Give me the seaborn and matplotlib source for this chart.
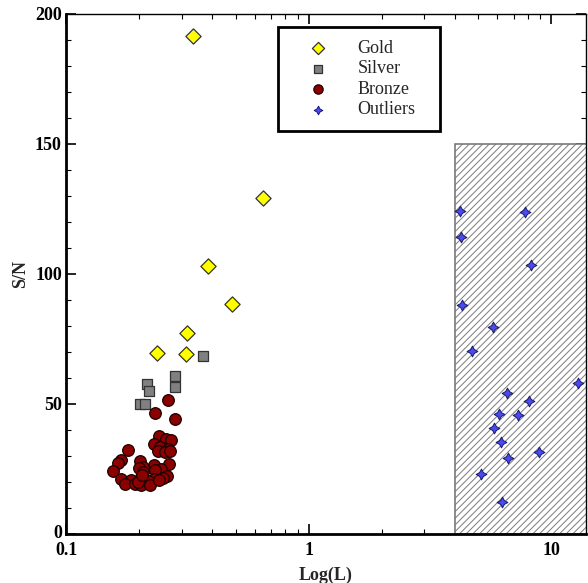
import numpy as np
import pandas as pd
import matplotlib
matplotlib.use("Agg")
import matplotlib.pyplot as plt
import matplotlib.transforms as mtransforms
from matplotlib.patches import Rectangle
from matplotlib.ticker import LogLocator, MultipleLocator, FixedLocator, FixedFormatter
import seaborn as sns

# ---- data ----
gold_x = [0.334, 0.647, 0.383, 0.484, 0.316, 0.237, 0.313]
gold_y = [191.4, 129.1, 103.0, 88.6, 77.3, 69.6, 69.3]

silver_x = [0.367, 0.280, 0.281, 0.215, 0.220, 0.201, 0.211]
silver_y = [68.5, 60.9, 56.7, 57.6, 55.0, 49.9, 49.9]

bronze_x = [0.262, 0.2325, 0.2818, 0.2421, 0.2585, 0.271, 0.2310, 0.2444, 0.2636,
            0.2384, 0.2554, 0.2679, 0.1794, 0.1679, 0.1641, 0.2011, 0.1565, 0.2661,
            0.2302, 0.2069, 0.2467, 0.1997, 0.2331, 0.2081, 0.2596, 0.2499, 0.2310,
            0.2036, 0.1684, 0.1846, 0.2169, 0.1749, 0.1923, 0.2030, 0.2216, 0.1973,
            0.2407, 0.2049]
bronze_y = [51.7, 46.4, 44.1, 37.8, 36.4, 36.2, 34.5, 33.6, 32.8,
            32.1, 31.4, 31.9, 32.4, 28.3, 27.4, 28.1, 24.1, 26.9,
            26.7, 25.9, 25.0, 25.5, 24.6, 23.8, 22.4, 21.4, 21.0,
            21.8, 21.0, 20.8, 20.5, 19.1, 19.1, 18.8, 19.0, 20.1,
            20.8, 22.7]

outlier_x = [4.195, 7.82, 4.264, 8.25, 4.30, 5.75, 4.69, 12.92, 6.57, 8.09,
             6.07, 7.27, 5.83, 6.21, 6.63, 8.93, 5.15, 6.28]
outlier_y = [124.3, 123.8, 114.1, 103.6, 88.1, 79.7, 70.3, 58.1, 54.1, 51.3,
             46.0, 45.9, 40.8, 35.4, 29.1, 31.7, 23.2, 12.2]

region_x = [4.0, 20.0]      # hatched outlier region
region_y = [0.0, 150.0]

x_lim = [0.1, 13.9]
y_lim = [0, 200]
x_major = [0.1, 1, 10]
x_major_labels = ["0.1", "1", "10"]
y_major = [0, 50, 100, 150, 200]

groups = ["Gold", "Silver", "Bronze", "Outliers"]

df = pd.concat([
    pd.DataFrame({"x": gold_x, "y": gold_y, "group": "Gold"}),
    pd.DataFrame({"x": silver_x, "y": silver_y, "group": "Silver"}),
    pd.DataFrame({"x": bronze_x, "y": bronze_y, "group": "Bronze"}),
    pd.DataFrame({"x": outlier_x, "y": outlier_y, "group": "Outliers"}),
], ignore_index=True)

# ---- style ----
sns.set_style("ticks")
plt.rcParams["font.family"] = ["Liberation Serif", "DejaVu Serif"]
plt.rcParams["hatch.linewidth"] = 0.7

styles = {
    "Gold":     dict(marker="D", s=60, color="#ffff00", edgecolor="#333333", linewidth=0.9),
    "Silver":   dict(marker="s", s=55, color="#808080", edgecolor="#333333", linewidth=0.9),
    "Bronze":   dict(marker="o", s=70, color="#8b0000", edgecolor="#1a0000", linewidth=0.9),
    "Outliers": dict(marker=(4, 1, 0), s=60, color="#4a4af0", edgecolor="#1a1a66", linewidth=0.7),
}

fig = plt.figure(figsize=(5.88, 5.83), dpi=100)
ax = fig.add_axes([66 / 588, 1 - 534 / 583, 520 / 588, 520 / 583])

rect = Rectangle((region_x[0], region_y[0]), region_x[1] - region_x[0], region_y[1] - region_y[0],
                 facecolor="white", edgecolor="#7a7a7a", hatch="/////", linewidth=1.2, zorder=1)
ax.add_patch(rect)

for g in groups:
    st = styles[g]
    sns.scatterplot(data=df[df["group"] == g], x="x", y="y", ax=ax, label=g,
                    zorder=3, **st)

ax.set_xscale("log")
ax.set_xlim(*x_lim)
ax.set_ylim(*y_lim)

ax.xaxis.set_major_locator(FixedLocator(x_major))
ax.xaxis.set_major_formatter(FixedFormatter(x_major_labels))
ax.xaxis.set_minor_locator(LogLocator(base=10, subs=np.arange(2, 10)))
ax.xaxis.set_minor_formatter(plt.NullFormatter())
ax.yaxis.set_major_locator(FixedLocator(y_major))
ax.yaxis.set_minor_locator(MultipleLocator(10))

ax.tick_params(which="both", direction="in", top=True, right=True, colors="black")
ax.tick_params(which="major", length=7, width=1.2, labelsize=13, pad=3)
ax.tick_params(axis="x", which="major", pad=6)
ax.tick_params(which="minor", length=3.5, width=0.8)
for lab in ax.get_xticklabels() + ax.get_yticklabels():
    lab.set_fontweight("bold")

# nudge the y "0" label up slightly so it sits above "0.1" as in the original
fig.canvas.draw()
ylabs = ax.get_yticklabels()
if ylabs:
    off = mtransforms.ScaledTranslation(0, 3 / 100, fig.dpi_scale_trans)
    ylabs[0].set_transform(ylabs[0].get_transform() + off)

for side in ["left", "bottom"]:
    ax.spines[side].set_linewidth(2.0)
for side in ["top", "right"]:
    ax.spines[side].set_linewidth(1.0)
for sp in ax.spines.values():
    sp.set_color("black")
    sp.set_visible(True)

ax.set_xlabel("Log(L)", fontsize=13, fontweight="bold", labelpad=5)
ax.set_ylabel("S/N", fontsize=13, fontweight="bold", labelpad=4)

leg_w = 162 / 520
leg = ax.legend(loc="upper left", bbox_to_anchor=(0.408, 0.775, leg_w, 0.2), mode="expand",
                frameon=True, fancybox=False,
                edgecolor="black", fontsize=13, markerscale=0.8, labelspacing=0.2,
                handlelength=3.0, handletextpad=0.7, borderpad=0.7, borderaxespad=0,
                framealpha=1)
leg.get_frame().set_linewidth(2.0)
for t in leg.get_texts():
    t.set_fontweight("normal")

fig.savefig("out.png", dpi=100)
